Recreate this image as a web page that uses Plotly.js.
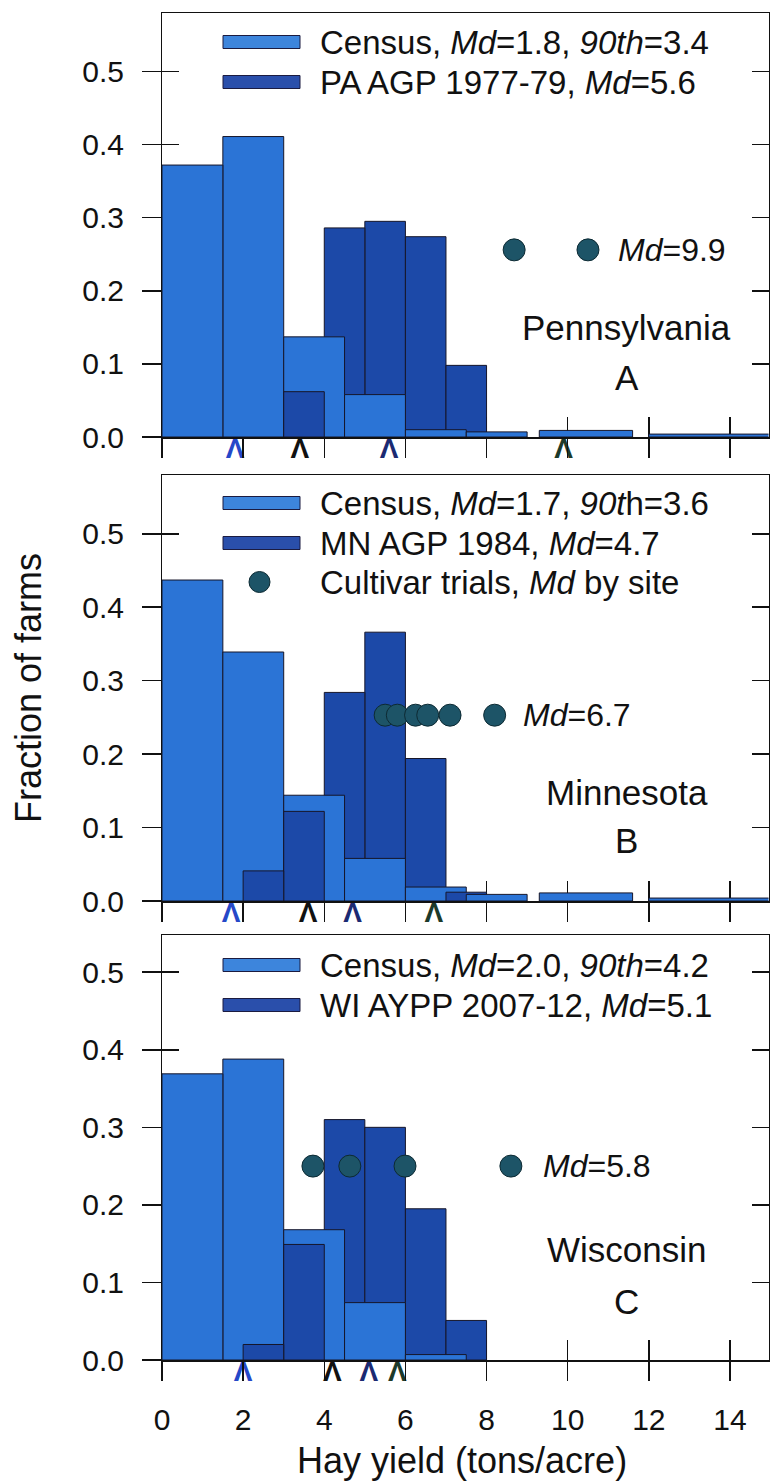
<!DOCTYPE html>
<html><head><meta charset="utf-8">
<script src="https://cdn.plot.ly/plotly-3.0.1.min.js"></script>
<style>html,body{margin:0;padding:0;background:#fff}</style>
</head><body><div id="chart" style="width:771px;height:1483px"></div>
<script>
// ---------------- data ----------------
// Census yield classes (tons/acre), bin low / high edges
const censusLo = [0, 1.5, 3.0, 4.5, 6.0, 7.5, 9.3, 12.0];
const censusHi = [1.5, 3.0, 4.5, 6.0, 7.5, 9.0, 11.6, 15.0];
// Fraction of farms per census class
const paCensus = [0.372, 0.411, 0.137, 0.058, 0.010, 0.007, 0.009, 0.004];
const mnCensus = [0.437, 0.339, 0.144, 0.058, 0.019, 0.009, 0.011, 0.004];
const wiCensus = [0.369, 0.388, 0.168, 0.074, 0.007, null, null, null];
// Yield-contest / AGP classes (1 ton wide)
const agpLo = [2, 3, 4, 5, 6, 7];
const agpHi = [3, 4, 5, 6, 7, 8];
const paAgp = [null, 0.062, 0.286, 0.295, 0.274, 0.098];
const mnAgp = [0.041, 0.122, 0.284, 0.366, 0.194, 0.012];
const wiAgp = [0.020, 0.149, 0.310, 0.300, 0.195, 0.051];
// Cultivar trial site medians (tons/acre)
const paTrials = [8.68, 10.5];
const mnTrials = [5.5, 5.8, 6.25, 6.55, 7.1, 8.2];
const wiTrials = [3.72, 4.63, 5.99, 8.6];
// Medians / percentiles marked under the axis: census Md, census 90th, AGP Md, trials Md
const paMarks = [1.8, 3.4, 5.6, 9.9];
const mnMarks = [1.7, 3.6, 4.7, 6.7];
const wiMarks = [2.0, 4.2, 5.1, 5.8];
// Text
const stateNames = ['Pennsylvania', 'Minnesota', 'Wisconsin'];
const panelLetters = ['A', 'B', 'C'];
const legendCensus = ['Census, <i>Md</i>=1.8, <i>90th</i>=3.4', 'Census, <i>Md</i>=1.7, <i>90t</i>h=3.6', 'Census, <i>Md</i>=2.0, <i>90th</i>=4.2'];
const legendAgp = ['PA AGP 1977-79, <i>Md</i>=5.6', 'MN AGP 1984, <i>Md</i>=4.7', 'WI AYPP 2007-12, <i>Md</i>=5.1'];
const legendTrials = 'Cultivar trials, <i>Md</i> by site';
const trialMdText = ['<i>Md</i>=9.9', '<i>Md</i>=6.7', '<i>Md</i>=5.8'];
const xTicks = [0, 2, 4, 6, 8, 10, 12, 14];
const yTicks = [0, 0.1, 0.2, 0.3, 0.4, 0.5];

// ---------------- style / layout constants ----------------
const W = 771, H = 1483;
const XL = 162, XR = 768.5, XMAX = 14.95;
const panels = [
  {top: 13, bottom: 437, ymax: 0.580, dotY: 0.256, mdX: 11.2, nameY: 0.150, letY: 0.081, leg: [42, 82]},
  {top: 475, bottom: 901, ymax: 0.580, dotY: 0.253, mdX: 8.85, nameY: 0.148, letY: 0.082, leg: [503, 543, 582]},
  {top: 935, bottom: 1360, ymax: 0.548, dotY: 0.250, mdX: 9.35, nameY: 0.142, letY: 0.076, leg: [965, 1005]}
];
const FONT = 'Liberation Sans, Arial, sans-serif';
const C_CENSUS = '#2b74d6', C_AGP = '#1c49a8', C_DOT = '#1d5467';
const C_LEG_CENSUS = '#3d85dc', C_LEG_AGP = '#2a4fab';
const markColors = ['#2548c8', '#111111', '#1b2a72', '#1c3a2a'];
const INK = '#111';

const censusSets = [paCensus, mnCensus, wiCensus];
const agpSets = [paAgp, mnAgp, wiAgp];
const trialSets = [paTrials, mnTrials, wiTrials];
const markSets = [paMarks, mnMarks, wiMarks];

const traces = [];
const layout = {
  width: W, height: H, margin: {l: 0, r: 0, t: 0, b: 0},
  paper_bgcolor: '#fff', plot_bgcolor: '#fff', barmode: 'overlay',
  showlegend: false, font: {family: FONT, color: INK},
  annotations: [], shapes: []
};

panels.forEach((P, i) => {
  const s = i === 0 ? '' : String(i + 1);
  const o = String(i + 4);
  const xa = 'x' + s, ya = 'y' + s;
  const yDom = [1 - P.bottom / H, 1 - P.top / H];
  const dx = px => (px - XL) / (XR - XL);
  const dy = py => (P.bottom - py) / (P.bottom - P.top);

  // bars: shorter bars drawn in front
  const items = [];
  censusSets[i].forEach((v, k) => { if (v != null) items.push({lo: censusLo[k], hi: censusHi[k], v: v, c: C_CENSUS}); });
  agpSets[i].forEach((v, k) => { if (v != null) items.push({lo: agpLo[k], hi: agpHi[k], v: v, c: C_AGP}); });
  items.sort((a, b) => b.v - a.v);
  traces.push({
    type: 'bar', x: items.map(d => d.lo), y: items.map(d => d.v),
    width: items.map(d => d.hi - d.lo), offset: 0,
    marker: {color: items.map(d => d.c), line: {color: '#16162a', width: 1}},
    xaxis: xa, yaxis: ya, hoverinfo: 'skip'
  });
  // cultivar-trial dots
  traces.push({
    type: 'scatter', mode: 'markers', x: trialSets[i], y: trialSets[i].map(() => P.dotY),
    marker: {size: 22, color: C_DOT, line: {color: '#0d2a33', width: 1}},
    xaxis: xa, yaxis: ya, hoverinfo: 'skip'
  });
  // median carets below the axis
  traces.push({
    type: 'scatter', mode: 'text', x: markSets[i], y: markSets[i].map(() => 0),
    text: markSets[i].map(() => 'Λ'), textposition: 'bottom center',
    textfont: {family: FONT, size: 28, weight: 'bold', color: markColors},
    cliponaxis: false, xaxis: xa, yaxis: ya, hoverinfo: 'skip'
  });
  // invisible anchors so the overlay tick axes are built
  traces.push({type: 'scatter', mode: 'markers', x: [1], y: [0.1], marker: {opacity: 0, size: 1},
    xaxis: xa, yaxis: 'y' + o, hoverinfo: 'skip'});
  traces.push({type: 'scatter', mode: 'markers', x: [1], y: [0.1], marker: {opacity: 0, size: 1},
    xaxis: 'x' + o, yaxis: ya, hoverinfo: 'skip'});

  layout['xaxis' + s] = {
    domain: [XL / W, XR / W], range: [0, XMAX], anchor: ya,
    tickmode: 'array', tickvals: xTicks, ticks: 'outside', ticklen: 19, tickwidth: 1.5, tickcolor: INK,
    showline: true, linewidth: 1.5, linecolor: INK, mirror: true,
    showgrid: false, zeroline: false, showticklabels: i === 2,
    tickfont: {family: FONT, size: 30, color: INK}, ticklabelstandoff: 13
  };
  layout['xaxis' + o] = {
    overlaying: xa, anchor: ya, range: [0, XMAX],
    tickmode: 'array', tickvals: xTicks, ticks: 'inside', ticklen: 20, tickwidth: 1.5, tickcolor: INK,
    showline: false, showgrid: false, zeroline: false, showticklabels: false, layer: 'below traces'
  };
  layout['yaxis' + s] = {
    domain: yDom, range: [0, P.ymax], anchor: xa,
    tickmode: 'array', tickvals: yTicks, ticks: 'inside', ticklen: 17, tickwidth: 1.5, tickcolor: INK,
    showline: true, linewidth: 1.5, linecolor: INK, mirror: 'ticks',
    showgrid: false, zeroline: false, showticklabels: false, layer: 'below traces'
  };
  layout['yaxis' + o] = {
    overlaying: ya, anchor: xa, side: 'left', range: [0, P.ymax],
    tickmode: 'array', tickvals: yTicks, ticks: 'outside', ticklen: 19, tickwidth: 1.5, tickcolor: INK,
    tickformat: '.1f', showline: false, showgrid: false, zeroline: false,
    tickfont: {family: FONT, size: 30, color: INK}, ticklabelstandoff: 12
  };

  // legend (swatches + text)
  const xr = xa + ' domain', yr = ya + ' domain';
  [[C_LEG_CENSUS, legendCensus[i]], [C_LEG_AGP, legendAgp[i]]].forEach((e, k) => {
    const cy = P.leg[k];
    layout.shapes.push({type: 'rect', xref: xr, yref: yr, x0: dx(223), x1: dx(300), y0: dy(cy + 6.5), y1: dy(cy - 6.5),
      fillcolor: e[0], line: {color: '#1b1b40', width: 1}});
    layout.annotations.push({xref: xr, yref: yr, x: dx(318), y: dy(cy), xanchor: 'left', yanchor: 'middle',
      text: e[1], showarrow: false, font: {family: FONT, size: 33, color: INK}});
  });
  if (P.leg.length > 2) {
    const cy = P.leg[2];
    layout.shapes.push({type: 'circle', xref: xr, yref: yr, x0: dx(249), x1: dx(270), y0: dy(cy + 10.5), y1: dy(cy - 10.5),
      fillcolor: C_DOT, line: {color: '#0d2a33', width: 1}});
    layout.annotations.push({xref: xr, yref: yr, x: dx(318), y: dy(cy), xanchor: 'left', yanchor: 'middle',
      text: legendTrials, showarrow: false, font: {family: FONT, size: 33, color: INK}});
  }
  // Md label beside the dots, state name and panel letter
  layout.annotations.push({xref: xa, yref: ya, x: P.mdX, y: P.dotY, xanchor: 'left', yanchor: 'middle',
    text: trialMdText[i], showarrow: false, font: {family: FONT, size: 32, color: INK}});
  layout.annotations.push({xref: xa, yref: ya, x: 11.45, y: P.nameY, xanchor: 'center', yanchor: 'middle',
    text: stateNames[i], showarrow: false, font: {family: FONT, size: 35, color: INK}});
  layout.annotations.push({xref: xa, yref: ya, x: 11.45, y: P.letY, xanchor: 'center', yanchor: 'middle',
    text: panelLetters[i], showarrow: false, font: {family: FONT, size: 35, color: INK}});
});

// axis titles
layout.annotations.push({xref: 'paper', yref: 'paper', x: 28 / W, y: 1 - 688 / H, xanchor: 'center', yanchor: 'middle',
  text: 'Fraction of farms', textangle: -90, showarrow: false, font: {family: FONT, size: 36, color: INK}});
layout.annotations.push({xref: 'paper', yref: 'paper', x: 462 / W, y: 1 - 1460 / H, xanchor: 'center', yanchor: 'middle',
  text: 'Hay yield (tons/acre)', showarrow: false, font: {family: FONT, size: 36, color: INK}});

Plotly.newPlot('chart', traces, layout, {staticPlot: true, displayModeBar: false});
</script></body></html>
